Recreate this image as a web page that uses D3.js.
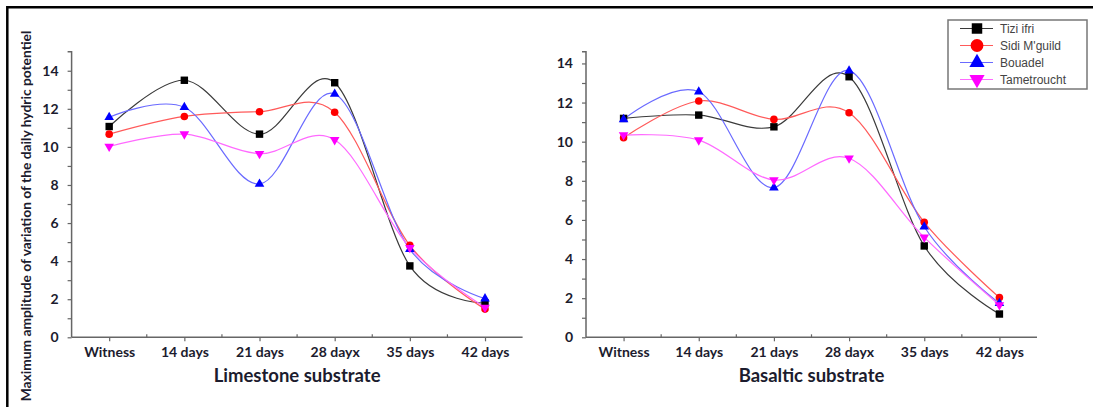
<!DOCTYPE html>
<html>
<head>
    <meta charset="utf-8">
    <title>Maximum amplitude of variation of the daily hydric potential</title>
    <script src="https://d3js.org/d3.v7.min.js"></script>
    <style>
        body { margin: 0; background: #fff; }
        .tick-label { font-family: Lato, "Open Sans", sans-serif; font-weight: bold; font-size: 14px; fill: #1c1c2e; }
        .axis-title { font-family: Lato, "Open Sans", sans-serif; font-weight: bold; font-size: 18.5px; fill: #1c1c2e; }
        .y-title { font-family: Lato, "Open Sans", sans-serif; font-weight: bold; font-size: 13.8px; fill: #1c1c2e; }
        .legend-label { font-family: "Liberation Sans", Arial, sans-serif; font-size: 12px; fill: #444; }
    </style>
</head>
<body>
<div id="chart"></div>
<script>
const width = 1093;
const height = 407;

// 处理时间
const days = ["Witness", "14 days", "21 days", "28 dayx", "35 days", "42 days"];

const seriesNames = ["Tizi ifri", "Sidi M'guild", "Bouadel", "Tametroucht"];
const lineColors = ["#3a3a3a", "#ff5a5a", "#6a6aff", "#ff6aff"];
const markColors = ["#000000", "#ff0000", "#0000ff", "#ff00ff"];
const markShapes = ["square", "circle", "up", "down"];

// 石灰岩基质
const limestone = [
    [11.07, 13.5, 10.67, 13.37, 3.75, 1.8],
    [10.67, 11.6, 11.85, 11.82, 4.83, 1.48],
    [11.56, 12.08, 8.05, 12.78, 4.62, 2.03],
    [10.02, 10.67, 9.64, 10.37, 4.7, 1.57]
];

// 玄武岩基质
const basaltic = [
    [11.19, 11.36, 10.76, 13.32, 4.67, 1.19],
    [10.2, 12.08, 11.14, 11.48, 5.88, 2.03],
    [11.14, 12.55, 7.65, 13.63, 5.65, 1.74],
    [10.34, 10.08, 8.04, 9.15, 5.11, 1.65]
];

const yTicks = d3.range(0, 15, 1);

const svg = d3.select("#chart").append("svg")
    .attr("width", width)
    .attr("height", height)
    .style("background", "#fff");

// 外框
svg.append("path")
    .attr("d", `M7.3,${height}V7.3H${width}`)
    .attr("fill", "none")
    .attr("stroke", "#000")
    .attr("stroke-width", 2.5);

function markerPath(shape, size) {
    if (shape === "square") return d3.symbol(d3.symbolSquare, size)();
    if (shape === "circle") return d3.symbol(d3.symbolCircle, size)();
    return d3.symbol(d3.symbolTriangle, size)();
}

function drawPanel(data, x0, x1, yMax, title) {
    const x = d3.scalePoint().domain(days).range([x0, x1]).padding(0.5);
    const y = d3.scaleLinear().domain([0, yMax]).range([337.3, 51.7]);
    const g = svg.append("g");

    // y 轴
    const yAxis = g.append("g")
        .attr("transform", `translate(${x0},0)`)
        .call(d3.axisLeft(y).tickValues(yTicks).tickSize(4).tickPadding(9)
            .tickFormat(d => d % 2 === 0 ? d : ""));
    yAxis.select(".domain").attr("stroke", "#666").attr("stroke-width", 1.5).attr("d", `M-4,${y(yMax)}H0V${y(0)}`);
    yAxis.selectAll(".tick line").attr("stroke", "#666").attr("stroke-width", 1.2);
    yAxis.selectAll(".tick text").attr("class", "tick-label");

    // x 轴
    const xAxis = g.append("g")
        .attr("transform", `translate(0,${y(0)})`)
        .call(d3.axisBottom(x).tickSize(4).tickPadding(6));
    xAxis.select(".domain").attr("stroke", "#666").attr("stroke-width", 1.5).attr("d", `M${x0},0H${x1}`);
    xAxis.selectAll(".tick line").attr("stroke", "#666").attr("stroke-width", 1.2);
    xAxis.selectAll(".tick text").attr("class", "tick-label");
    const step = x.step();
    xAxis.selectAll(".between")
        .data(days.slice(1))
        .join("line")
        .attr("x1", d => x(d) - step / 2)
        .attr("x2", d => x(d) - step / 2)
        .attr("y1", 0)
        .attr("y2", -3)
        .attr("stroke", "#666")
        .attr("stroke-width", 1.2);

    const line = d3.line()
        .x((d, i) => x(days[i]))
        .y(d => y(d))
        .curve(d3.curveCatmullRom.alpha(0));

    data.forEach((vals, s) => {
        g.append("path")
            .attr("d", line(vals))
            .attr("fill", "none")
            .attr("stroke", lineColors[s])
            .attr("stroke-width", 1.2);
    });

    data.forEach((vals, s) => {
        const shape = markShapes[s];
        const size = shape === "square" ? 55 : shape === "circle" ? 45 : 40;
        g.selectAll(null)
            .data(vals)
            .join("path")
            .attr("d", markerPath(shape, size))
            .attr("transform", (d, i) => `translate(${x(days[i])},${y(d)})` + (shape === "down" ? " rotate(180)" : ""))
            .attr("fill", markColors[s]);
    });

    g.append("text")
        .attr("class", "axis-title")
        .attr("x", (x0 + x1) / 2)
        .attr("y", 382)
        .attr("text-anchor", "middle")
        .text(title);
}

drawPanel(limestone, 71.6, 522.6, 15, "Limestone substrate");
drawPanel(basaltic, 586, 1037, 14.6, "Basaltic substrate");

svg.append("text")
    .attr("class", "y-title")
    .attr("transform", "translate(31,216) rotate(-90)")
    .attr("text-anchor", "middle")
    .text("Maximum amplitude of variation of the daily hydric potentiel");

// 图例
const legend = svg.append("g").attr("transform", "translate(948,20)");
legend.append("rect")
    .attr("width", 139)
    .attr("height", 69)
    .attr("fill", "#fff")
    .attr("stroke", "#777")
    .attr("stroke-width", 1.5);

const item = legend.selectAll(".item")
    .data(seriesNames)
    .join("g")
    .attr("transform", (d, i) => `translate(0,${8.5 + i * 17})`);

item.append("line")
    .attr("x1", 12).attr("x2", 45)
    .attr("stroke", (d, i) => lineColors[i])
    .attr("stroke-width", 1.2);

item.append("path")
    .attr("d", (d, i) => markerPath(markShapes[i], markShapes[i] === "square" ? 110 : markShapes[i] === "circle" ? 130 : 100))
    .attr("transform", (d, i) => "translate(29,0)" + (markShapes[i] === "down" ? " rotate(180)" : ""))
    .attr("fill", (d, i) => markColors[i]);

item.append("text")
    .attr("class", "legend-label")
    .attr("x", 52)
    .attr("dy", "0.35em")
    .text(d => d);
</script>
</body>
</html>
